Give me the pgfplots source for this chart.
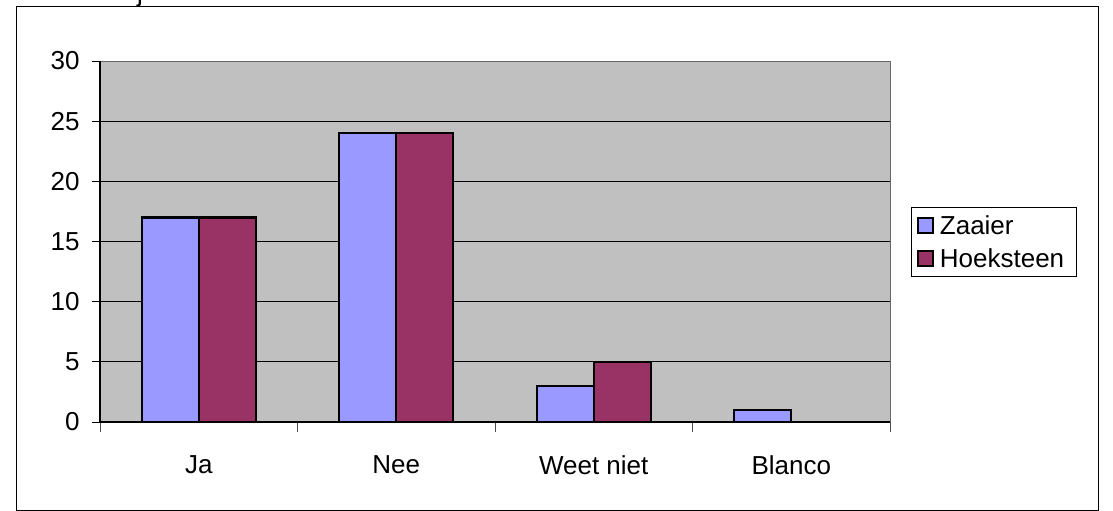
\documentclass[border=0pt]{standalone}
\usepackage{pgfplots}
\pgfplotsset{compat=1.18}
\usepackage{fontspec}
\setmainfont{Liberation Sans}
\definecolor{zaaier}{HTML}{9999FF}
\definecolor{hoek}{HTML}{993366}
\definecolor{plotbg}{HTML}{C0C0C0}
\begin{document}
\begin{tikzpicture}
\path[use as bounding box] (0,0) rectangle (1113bp,-511bp);
\fill[white] (0,0) rectangle (1113bp,-511bp);
\begin{scope}
\clip (0,0) rectangle (1113bp,-511bp);
\node[font=\fontsize{26bp}{30bp}\selectfont, anchor=base, inner sep=0pt] at (140bp,-1.5bp) {j};
\end{scope}
\draw[black, line width=1bp] (16bp,-6bp) rectangle (1098bp,-510bp);
\begin{axis}[
  at={(100bp,-422bp)}, anchor=south west,
  scale only axis, width=790bp, height=361bp,
  xmin=-0.5, xmax=3.5, ymin=0, ymax=30,
  ybar, bar width=57bp,
  axis background/.style={fill=plotbg},
  axis line style={draw=gray!80!black, line width=1bp},
  ytick={0,5,...,30},
  ymajorgrids, major grid style={black, line width=0.8bp},
  tick align=outside, tick pos=left,
  ytick style={black, line width=0.8bp},
  major tick length=8bp,
  xtick={0,1,2,3},
  xticklabels={Ja,Nee,Weet niet,Blanco},
  xtick style={draw=none},
  extra x ticks={-0.5,0.5,1.5,2.5,3.5},
  extra x tick labels={},
  extra x tick style={grid=none, xtick style={draw=gray!60!black, line width=0.8bp}, major tick length=10bp},
  xticklabel style={yshift=-22bp},
  yticklabel style={xshift=-9bp},
  tick label style={font=\fontsize{26bp}{30bp}\selectfont},
  /pgf/number format/assume math mode=true,
  legend style={at={(1.0266,0.4986)}, anchor=west, draw=black, line width=0.8bp,
    font=\fontsize{26bp}{30bp}\selectfont, row sep=9bp, inner xsep=6bp, inner ysep=6bp,
    nodes={inner xsep=6bp}},
  legend image code/.code={\draw[#1, line width=1.5bp] (2bp,-7.5bp) rectangle (17bp,7.5bp);},
  legend cell align=left,
  clip=false,
]
\addplot[fill=zaaier, draw=black, line width=2.2bp, bar shift=-28.5bp] coordinates {(0,17) (1,24) (2,3) (3,1)};
\addplot[fill=hoek, draw=black, line width=2.2bp, bar shift=28.5bp] coordinates {(0,17) (1,24) (2,5) (3,0)};
\legend{Zaaier,Hoeksteen}
\draw[black, line width=1.2bp] (rel axis cs:0,0) -- (rel axis cs:0,1);
\draw[black, line width=1.2bp] (rel axis cs:0,0) -- (rel axis cs:1,0);
\end{axis}
\end{tikzpicture}
\end{document}
